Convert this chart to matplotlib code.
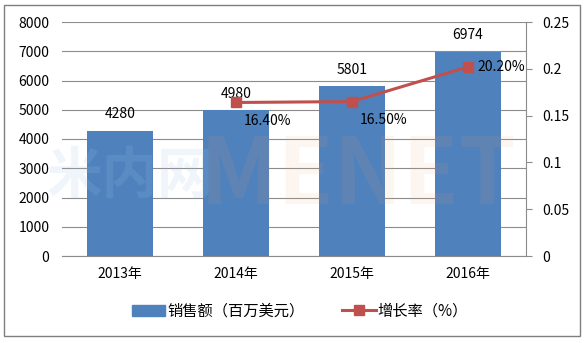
import matplotlib
matplotlib.use("Agg")
import matplotlib.pyplot as plt
from matplotlib.patches import Rectangle
from matplotlib.lines import Line2D

plt.rcParams['font.family'] = ['Noto Sans CJK SC', 'DejaVu Sans']

years = ["2013年", "2014年", "2015年", "2016年"]
sales = [4280, 4980, 5801, 6974]
growth_years = ["2014年", "2015年", "2016年"]
growth = [0.164, 0.165, 0.202]
growth_labels = ["16.40%", "16.50%", "20.20%"]

bar_color = "#4F81BD"
line_color = "#C0504D"
grid_color = "#8C8C8C"

fig = plt.figure(figsize=(5.88, 3.43), dpi=100)
fig.patch.set_facecolor("white")

# outer chart border
fig.add_artist(Rectangle((4 / 588, 1 - 336 / 343), 576 / 588, 331 / 343,
                         transform=fig.transFigure, fill=False,
                         edgecolor="#7F7F7F", linewidth=1.0))

ax = fig.add_axes([62 / 588, 1 - 256 / 343, 464 / 588, 234 / 343])
ax2 = ax.twinx()

x = list(range(len(years)))
ax.bar(x, sales, width=0.57, color=bar_color, zorder=3)
ax.set_xlim(-0.5, len(years) - 0.5)
ax.set_ylim(0, 8000)
ax.set_yticks(range(0, 8001, 1000))
ax.set_xticks(x)
ax.set_xticklabels(years, fontsize=10)
ax.tick_params(axis='y', length=0, labelsize=10, pad=9)
ax.tick_params(axis='x', length=0, pad=8)
ax.grid(axis='y', color=grid_color, linewidth=0.8, zorder=0)
ax.set_axisbelow(True)
for side in ["left", "top", "right"]:
    ax.spines[side].set_visible(False)
ax.spines["bottom"].set_color(grid_color)

for xi, v in zip(x, sales):
    ax.text(xi, v + 330, f"{v}", ha="center", va="bottom", fontsize=10, zorder=5)

# faint watermark laid over the plot
ax.text(-0.63, 2700, "米内网", fontsize=40, fontweight="bold", color="#9DC3E6",
        alpha=0.16, ha="left", va="center", zorder=4, clip_on=False)
ax.text(0.69, 2700, "MENET", fontsize=66, fontweight="bold", color="#F4A46A",
        alpha=0.10, ha="left", va="center", zorder=4)

gx = [years.index(g) for g in growth_years]
ax2.plot(gx, growth, color=line_color, linewidth=2.2, marker="s",
         markersize=7, zorder=6)
ax2.set_ylim(0, 0.25)
ax2.set_yticks([0, 0.05, 0.1, 0.15, 0.2, 0.25])
ax2.set_yticklabels(["0", "0.05", "0.1", "0.15", "0.2", "0.25"])
ax2.tick_params(axis='y', length=4, color=grid_color, labelsize=10, pad=8)
for side in ["left", "top", "bottom"]:
    ax2.spines[side].set_visible(False)
ax2.spines["right"].set_color(grid_color)

offsets = [(0.07, -0.012, "top"), (0.07, -0.012, "top"), (0.08, 0.0, "center")]
for xi, v, lab, (dx, dy, va) in zip(gx, growth, growth_labels, offsets):
    ax2.text(xi + dx, v + dy, lab, ha="left", va=va, fontsize=10, zorder=7)

handles = [Rectangle((0, 0), 1, 1, color=bar_color),
           Line2D([0], [0], color=line_color, linewidth=2.2, marker="s",
                  markersize=7)]
fig.legend(handles, ["销售额（百万美元）", "增长率（%）"], loc="center",
           bbox_to_anchor=(0.51, 1 - 311 / 343), ncol=2, frameon=False,
           fontsize=11, handlelength=2.2, handletextpad=0.1, columnspacing=2.5)

fig.savefig("out.png", dpi=100, facecolor="white")
